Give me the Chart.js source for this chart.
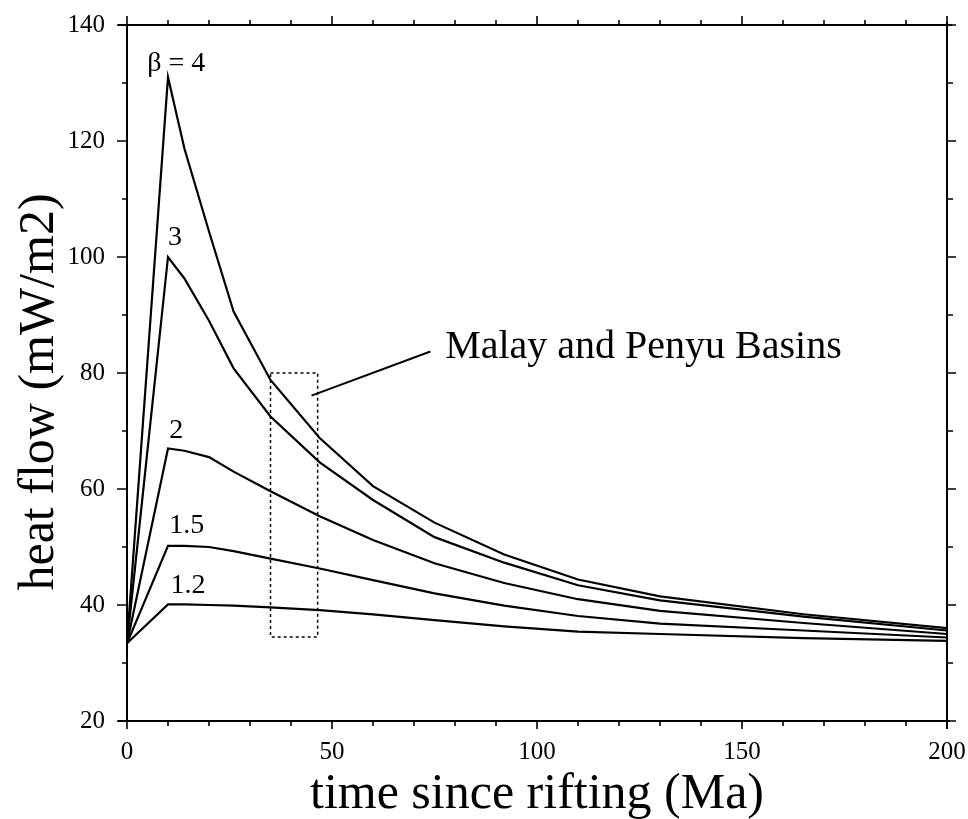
<!DOCTYPE html>
<html>
<head>
<meta charset="utf-8">
<script src="https://cdn.jsdelivr.net/npm/chart.js@4.4.0/dist/chart.umd.min.js"></script>
<style>
  html, body { margin: 0; padding: 0; background: #fff; }
  #wrap { width: 968px; height: 819px; }
</style>
</head>
<body>
<div id="wrap"><canvas id="chart" width="968" height="819"></canvas></div>
<script>
// time since rifting (Ma)
const times = [0, 10, 14, 20, 26, 35, 47, 60, 75, 92, 110, 130, 165, 200];

// heat flow (mW/m2) for each stretching factor
const beta4 = [33.4, 131, 118.7, 104.4, 90.6, 78.8, 68.8, 60.5, 54.2, 48.7, 44.4, 41.5, 38.4, 36.0];
const beta3 = [33.4, 100, 96.3, 89.0, 80.8, 72.5, 64.6, 58.1, 51.7, 47.3, 43.4, 40.8, 38.0, 35.6];
const beta2 = [33.4, 67, 66.6, 65.5, 63.0, 59.6, 55.3, 51.2, 47.2, 43.8, 41.0, 39.0, 36.9, 35.0];
const beta15 = [33.4, 50.2, 50.2, 50.0, 49.3, 48.0, 46.3, 44.3, 42.0, 39.9, 38.1, 36.8, 35.6, 34.4];
const beta12 = [33.4, 40.1, 40.1, 40.0, 39.9, 39.6, 39.1, 38.4, 37.4, 36.3, 35.4, 35.0, 34.3, 33.8];

const seriesNames = ['β = 4', '3', '2', '1.5', '1.2'];
const seriesValues = [beta4, beta3, beta2, beta15, beta12];

// curve labels, placed in data units
const labelX = [12.0, 11.7, 12.0, 14.6, 14.9];
const labelY = [133.3, 103.3, 70.0, 53.6, 43.3];

// Malay and Penyu Basins window and its note
const boxX = [35, 46.5];
const boxY = [34.5, 80];
const leaderX = [45, 74];
const leaderY = [76.1, 83.7];
const noteText = 'Malay and Penyu Basins';
const noteAt = [77.6, 82.6];

const xTicks = [0, 50, 100, 150, 200];
const yTicks = [20, 40, 60, 80, 100, 120, 140];

const serif = '"Liberation Serif", "Times New Roman", serif';

const frame = {
  id: 'frame',
  afterDraw(chart) {
    const ctx = chart.ctx;
    const xs = chart.scales.x, ys = chart.scales.y;
    const a = chart.chartArea;
    ctx.save();
    ctx.strokeStyle = '#000';
    ctx.fillStyle = '#000';

    // frame
    ctx.lineWidth = 2;
    ctx.beginPath();
    ctx.moveTo(a.left - 9, a.top); ctx.lineTo(a.right + 5, a.top);
    ctx.moveTo(a.left, a.top); ctx.lineTo(a.left, a.bottom);
    ctx.moveTo(a.left - 9, a.bottom); ctx.lineTo(a.right + 3, a.bottom);
    ctx.moveTo(a.right, a.top - 3); ctx.lineTo(a.right, a.bottom + 8);
    ctx.stroke();

    // ticks, all pointing outward
    ctx.lineWidth = 1.6;
    ctx.beginPath();
    for (let v = 0; v <= 200; v += 10) {
      const px = xs.getPixelForValue(v);
      const major = v % 50 === 0;
      ctx.moveTo(px, a.bottom); ctx.lineTo(px, a.bottom + (major ? 8 : 5));
      ctx.moveTo(px, a.top); ctx.lineTo(px, a.top - (major ? 9 : 5));
    }
    for (let v = 20; v <= 140; v += 10) {
      const py = ys.getPixelForValue(v);
      const major = v % 20 === 0;
      ctx.moveTo(a.left, py); ctx.lineTo(a.left - (major ? 10 : 5), py);
      ctx.moveTo(a.right, py); ctx.lineTo(a.right + (major ? 9 : 6), py);
    }
    ctx.stroke();

    // dotted window
    ctx.lineWidth = 1.5;
    ctx.setLineDash([3, 3]);
    const bx0 = xs.getPixelForValue(boxX[0]), bx1 = xs.getPixelForValue(boxX[1]);
    const by0 = ys.getPixelForValue(boxY[0]), by1 = ys.getPixelForValue(boxY[1]);
    ctx.strokeRect(bx0, by1, bx1 - bx0, by0 - by1);
    ctx.setLineDash([]);

    // leader line
    ctx.lineWidth = 2;
    ctx.beginPath();
    ctx.moveTo(xs.getPixelForValue(leaderX[0]), ys.getPixelForValue(leaderY[0]));
    ctx.lineTo(xs.getPixelForValue(leaderX[1]), ys.getPixelForValue(leaderY[1]));
    ctx.stroke();

    // note
    ctx.font = '40px ' + serif;
    ctx.textAlign = 'left';
    ctx.textBaseline = 'alphabetic';
    ctx.fillText(noteText, xs.getPixelForValue(noteAt[0]), ys.getPixelForValue(noteAt[1]));

    // curve labels
    ctx.font = '28px ' + serif;
    ctx.textAlign = 'center';
    ctx.textBaseline = 'middle';
    seriesNames.forEach((n, i) => {
      ctx.fillText(n, xs.getPixelForValue(labelX[i]), ys.getPixelForValue(labelY[i]));
    });

    // axis titles
    ctx.font = '50px ' + serif;
    ctx.fillText('time since rifting (Ma)', (a.left + a.right) / 2, 795);
    ctx.translate(40, 392);
    ctx.rotate(-Math.PI / 2);
    ctx.fillText('heat flow (mW/m2)', 0, 0);
    ctx.restore();
  }
};

new Chart(document.getElementById('chart'), {
  type: 'line',
  data: {
    datasets: seriesValues.map((vals, i) => ({
      label: seriesNames[i],
      data: times.map((t, j) => ({ x: t, y: vals[j] })),
      borderColor: '#000',
      borderWidth: 2.2,
      pointRadius: 0,
      tension: 0,
      fill: false,
    })),
  },
  options: {
    responsive: false,
    animation: false,
    layout: { padding: { top: 25, right: 21, left: 0, bottom: 0 } },
    plugins: { legend: { display: false }, tooltip: { enabled: false } },
    scales: {
      x: {
        type: 'linear',
        min: 0,
        max: 200,
        afterBuildTicks: (s) => { s.ticks = xTicks.map(v => ({ value: v })); },
        afterFit: (s) => { s.height = 98; s.paddingLeft = 0; s.paddingRight = 0; },
        grid: { display: false },
        border: { display: false },
        ticks: { color: '#000', padding: 8, font: { family: serif, size: 25 } },
      },
      y: {
        min: 20,
        max: 140,
        afterBuildTicks: (s) => { s.ticks = yTicks.map(v => ({ value: v })); },
        afterFit: (s) => { s.width = 127; s.paddingTop = 0; s.paddingBottom = 0; },
        grid: { display: false },
        border: { display: false },
        ticks: { color: '#000', padding: 14, font: { family: serif, size: 25 } },
      },
    },
  },
  plugins: [frame],
});
</script>
</body>
</html>
